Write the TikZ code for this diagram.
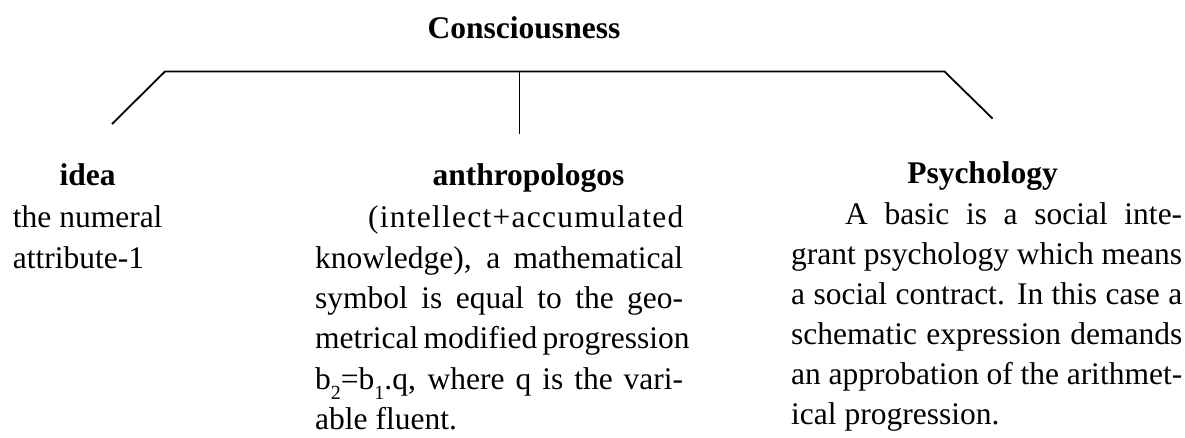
\documentclass[tikz,border=0pt]{standalone}
\usepackage{fontspec}
\setmainfont{Liberation Serif}
\newcommand{\lowsub}[1]{\raisebox{-10pt}{\fontsize{20}{20}\selectfont #1}}
\begin{document}
\begin{tikzpicture}[x=1pt,y=-1pt,
  txt/.style={anchor=base west, inner sep=0pt, font=\fontsize{31.5}{40}\selectfont},
  hd/.style={anchor=base, inner sep=0pt, font=\fontsize{31.5}{40}\selectfont\bfseries},
  link/.style={line width=1.8pt}]
\useasboundingbox (0,0) rectangle (1185,437);
% title
\node[hd] (cons) at (524,38) {Consciousness};
% bracket
\coordinate (tl) at (165,71.5);
\coordinate (tr) at (944.5,71.5);
\coordinate (tm) at (519.5,71.5);
\coordinate (ll) at (112,124);
\coordinate (rr) at (992.5,118.5);
\coordinate (mm) at (519.5,133.5);
\draw[link] (ll) -- (tl) -- (tr) -- (rr);
\draw[link] (tm) -- (mm);
% left column
\node[hd] (idea) at (87.5,185) {idea};
\node[txt] (l1) at (12.7,227) {the numeral};
\node[txt] (l2) at (12.7,268) {attribute-1};
% center column
\node[hd] (anth) at (528.5,185.5) {anthropologos};
\node[txt] (c1) at (368,227.5) {\makebox[315pt][s]{(\hfill i\hfill n\hfill t\hfill e\hfill l\hfill l\hfill e\hfill c\hfill t\hfill +\hfill a\hfill c\hfill c\hfill u\hfill m\hfill u\hfill l\hfill a\hfill t\hfill e\hfill d}};
\node[txt] (c2) at (315,268) {\makebox[368pt][s]{knowledge), a mathematical}};
\node[txt] (c3) at (315,308.3) {\makebox[368pt][s]{symbol is equal to the geo-}};
\node[txt] (c4) at (315,348.5) {\makebox[368pt][s]{metrical modified progression}};
\node[txt] (c5) at (315,389.3) {\makebox[368pt][s]{b\lowsub{2}=b\lowsub{1}.q, where q is the vari-}};
\node[txt] (c6) at (315,429.5) {able fluent.};
% right column
\node[hd] (psy) at (982.5,183) {Psychology};
\node[txt] (r1) at (845,224) {\makebox[337pt][s]{A basic is a social inte-}};
\node[txt] (r2) at (791,264) {\makebox[391pt][s]{grant psychology which means}};
\node[txt] (r3) at (791,304) {\makebox[391pt][s]{a social contract. In this case a}};
\node[txt] (r4) at (791,344) {\makebox[391pt][s]{schematic expression demands}};
\node[txt] (r5) at (791,384) {\makebox[391pt][s]{an approbation of the arithmet-}};
\node[txt] (r6) at (791,424) {ical progression.};
\end{tikzpicture}
\end{document}
